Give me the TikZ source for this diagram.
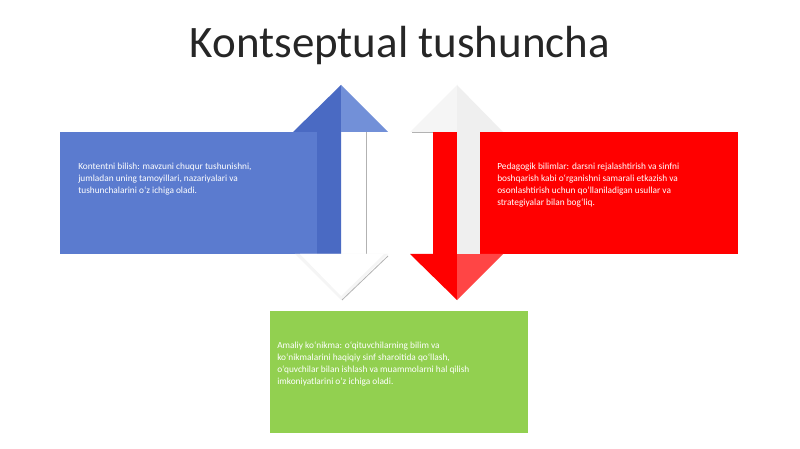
\documentclass[tikz,border=0pt]{standalone}
\usepackage{fontspec}
\setmainfont{Carlito}
\definecolor{kblue}{HTML}{5B7BCF}
\definecolor{kbluedark}{HTML}{4A6AC3}
\definecolor{kbluelight}{HTML}{7290D8}
\definecolor{kred}{HTML}{FF0000}
\definecolor{kredlight}{HTML}{FF4545}
\definecolor{kgreen}{HTML}{92D050}
\definecolor{kgrey}{HTML}{EFEFEF}
\definecolor{kgreylight}{HTML}{F5F5F5}
\begin{document}
\begin{tikzpicture}[
    x=0.75pt, y=-0.75pt,
    box text/.style={anchor=north west, inner sep=0pt, align=left,
    text=white, font=\fontsize{7}{9}\selectfont},
    title text/.style={font=\fontsize{33.75}{40}\selectfont, text=black!85},
    ghost line/.style={draw=black!30, line width=0.6pt}
    ]
    % page
    \fill[white] (0,0) rectangle (800,449);
    \useasboundingbox (0,0) rectangle (800,449);
    % title
    \node[title text] (title) at (400,46) {Kontseptual tushuncha};
    % boxes
    \fill[kblue] (60,132) rectangle (317,254);
    \fill[kred] (480,132) rectangle (738,254);
    \fill[kgreen] (270,311) rectangle (528,433);
    % blue arrow up
    \fill[kbluedark] (317,254) -- (317,132) -- (293,132) -- (341,85)
        -- (341,254) -- cycle;
    \fill[kbluelight] (341,85) -- (388,132) -- (341,132) -- cycle;
    \draw[ghost line] (366,132) -- (366,254);
    % faint head below
    \fill[kgreylight] (295,254) -- (388,254) -- (341,300) -- cycle;
    \fill[white] (300,254) -- (384,254) -- (341,296) -- cycle;
    \draw[ghost line] (388,256) -- (342,300);
    % red arrow down
    \fill[kred] (433,132) -- (457,132) -- (457,300) -- (410,254)
        -- (433,254) -- cycle;
    \fill[kredlight] (457,300) -- (503,254) -- (457,254) -- cycle;
    % grey head above
    \fill[kgreylight] (410,132) -- (457,85) -- (457,132) -- cycle;
    \fill[kgrey] (457,85) -- (503,132) -- (457,132) -- cycle;
    \fill[kgrey] (457,132) rectangle (480,254);
    \draw[ghost line] (412,132) -- (433,132);
    % texts
    \node[box text] (bluetext) at (78,163) {Kontentni bilish: mavzuni chuqur tushunishni,\\
        jumladan uning tamoyillari, nazariyalari va\\
        tushunchalarini o`z ichiga oladi.};
    \node[box text] (redtext) at (497,163) {Pedagogik bilimlar: darsni rejalashtirish va sinfni\\
        boshqarish kabi o`rganishni samarali etkazish va\\
        osonlashtirish uchun qo`llaniladigan usullar va\\
        strategiyalar bilan bog`liq.};
    \node[box text] (greentext) at (277,342) {Amaliy ko`nikma: o`qituvchilarning bilim va\\
        ko`nikmalarini haqiqiy sinf sharoitida qo`llash,\\
        o`quvchilar bilan ishlash va muammolarni hal qilish\\
        imkoniyatlarini o`z ichiga oladi.};
\end{tikzpicture}
\end{document}
